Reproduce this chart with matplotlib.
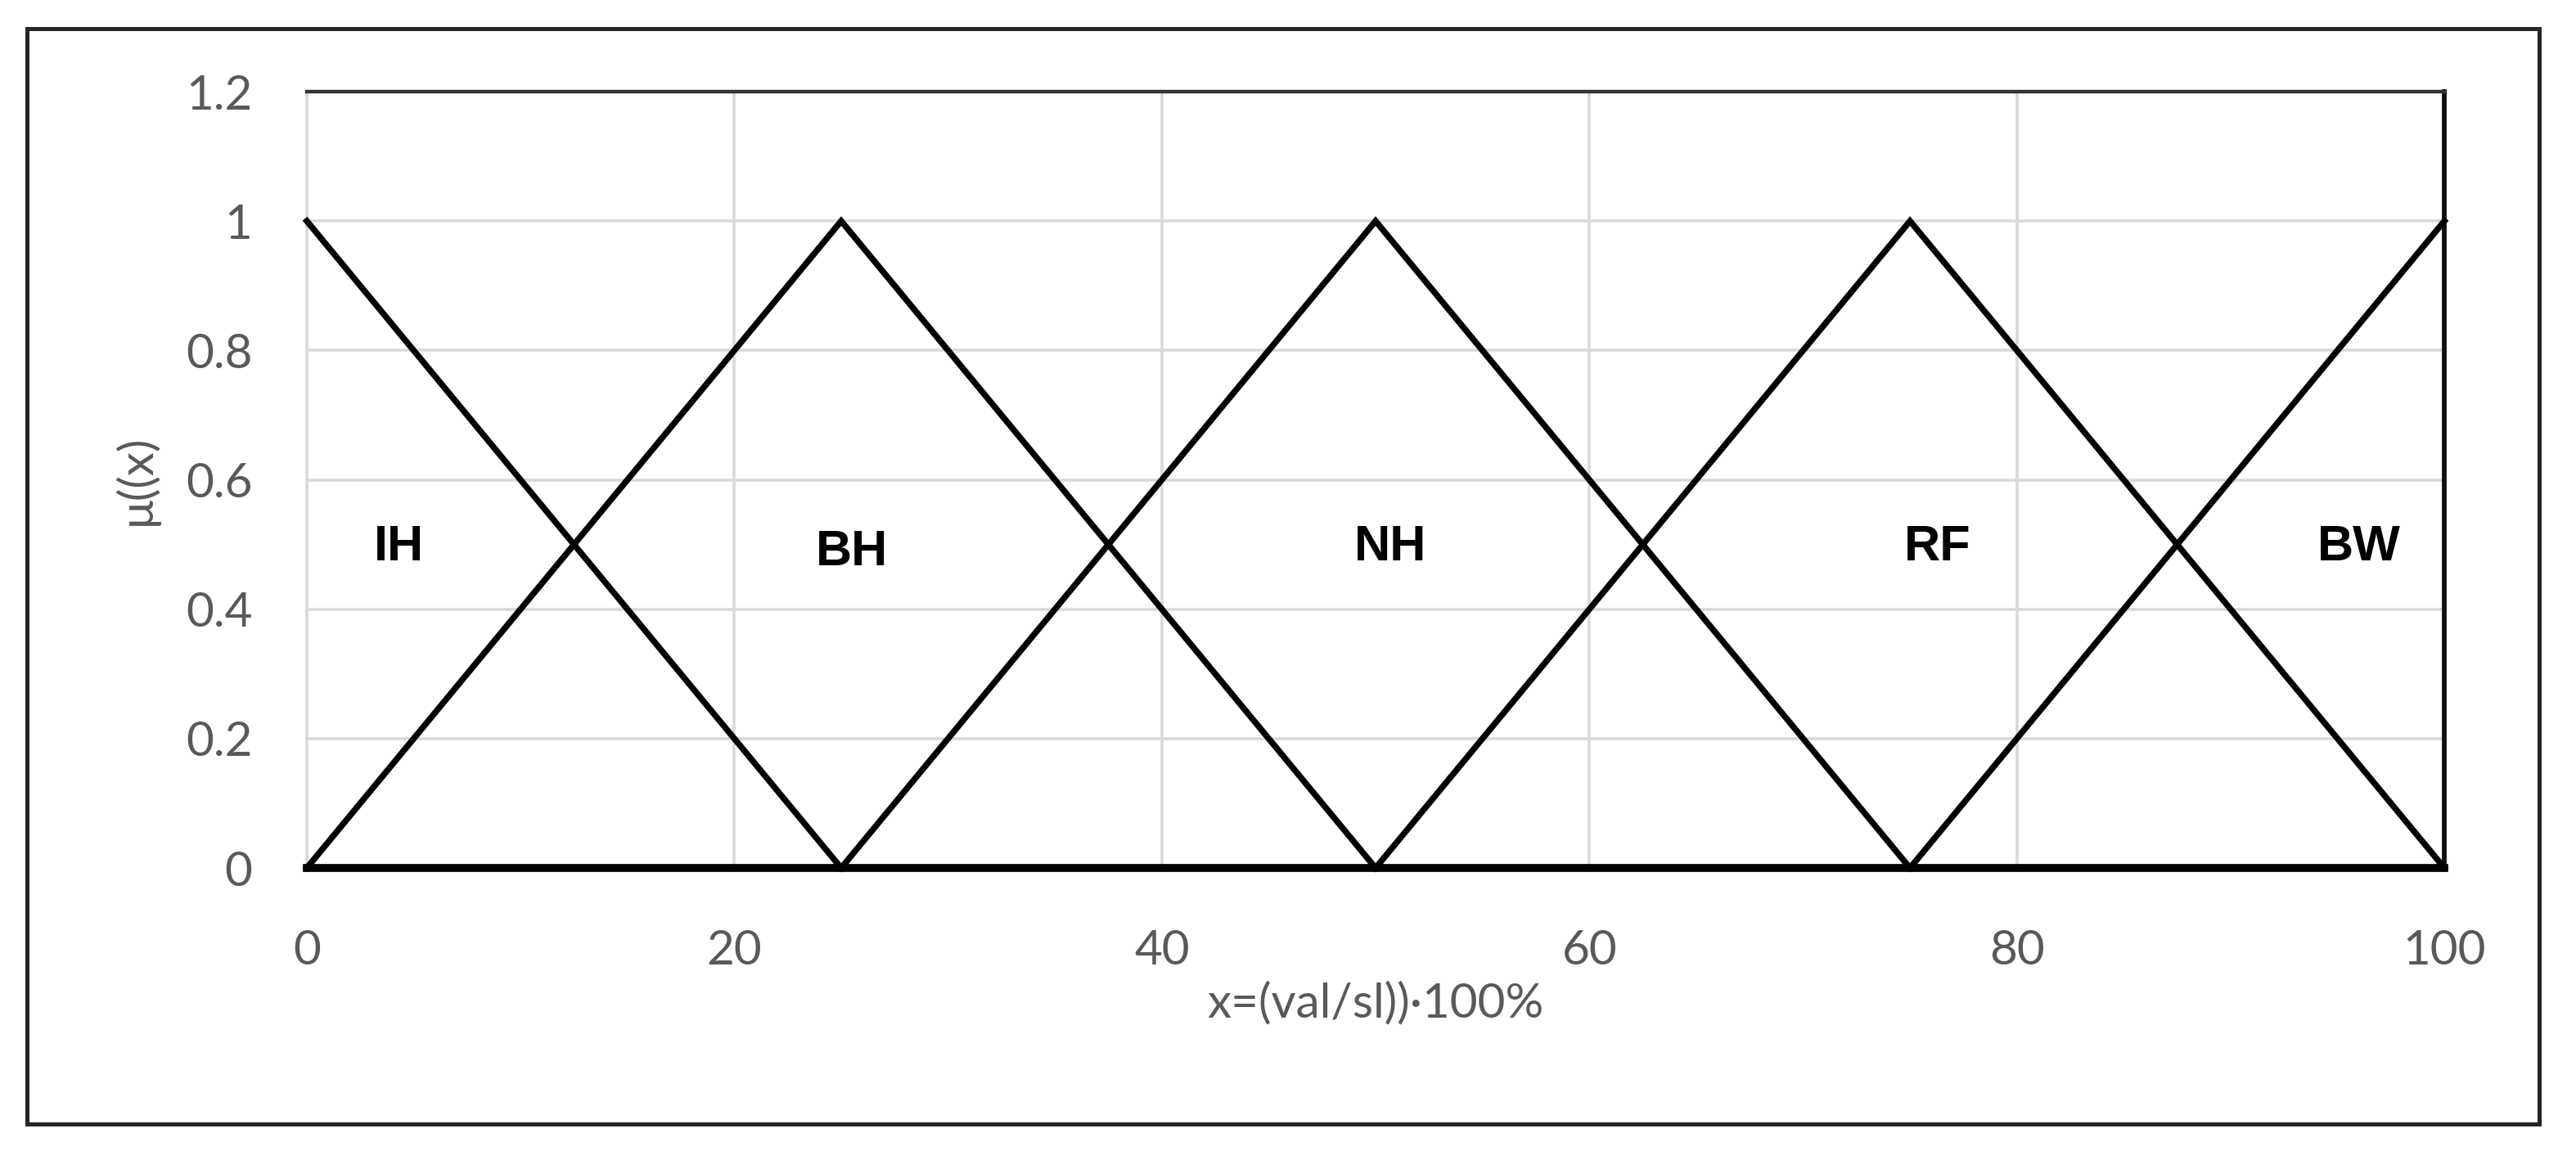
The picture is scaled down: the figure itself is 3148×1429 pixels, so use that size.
import matplotlib.pyplot as plt
from matplotlib.patches import Rectangle

# membership functions (x in %, mu)
ih_x = [0, 25]
ih_y = [1, 0]
bh_x = [0, 25, 50]
bh_y = [0, 1, 0]
nh_x = [25, 50, 75]
nh_y = [0, 1, 0]
rf_x = [50, 75, 100]
rf_y = [0, 1, 0]
bw_x = [75, 100]
bw_y = [0, 1]

labels = ['IH', 'BH', 'NH', 'RF', 'BW']
label_x = [4.3, 25.5, 50.7, 76.3, 96.0]
label_y = [0.495, 0.487, 0.495, 0.495, 0.495]

xticks = [0, 20, 40, 60, 80, 100]
yticks = [0, 0.2, 0.4, 0.6, 0.8, 1.0, 1.2]
ytick_labels = ['0', '0.2', '0.4', '0.6', '0.8', '1', '1.2']

fig = plt.figure(figsize=(31.48, 14.29), dpi=100)
ax = fig.add_axes([0.1191, 0.2575, 0.8298, 0.6641])

# outer frame
fig.patches.append(Rectangle((0.0105, 0.0385), 0.9752, 0.937, transform=fig.transFigure,
                             fill=False, edgecolor='#262626', lw=3.6))

lw = 5.4
for xs, ys in [(ih_x, ih_y), (bh_x, bh_y), (nh_x, nh_y), (rf_x, rf_y), (bw_x, bw_y)]:
    ax.plot(xs, ys, color='black', lw=lw, solid_joinstyle='miter', clip_on=False, zorder=3)

for t, lx, ly in zip(labels, label_x, label_y):
    ax.text(lx, ly, t, ha='center', va='center', fontsize=44, fontweight='bold',
            family='Liberation Sans', color='black')

ax.set_xlim(0, 100)
ax.set_ylim(0, 1.2)
ax.set_xticks(xticks)
ax.set_yticks(yticks)
ax.set_yticklabels(ytick_labels)
ax.grid(True, color='#d9d9d9', lw=2.6)
ax.set_axisbelow(True)

ax.tick_params(length=0, labelsize=42, labelcolor='#595959')
ax.tick_params(axis='x', pad=54)
ax.tick_params(axis='y', pad=48)
for lab in ax.get_xticklabels() + ax.get_yticklabels():
    lab.set_family('Lato')

ax.spines['left'].set_color('#d9d9d9')
ax.spines['left'].set_linewidth(2.6)
ax.spines['top'].set_color('#333333')
ax.spines['top'].set_linewidth(3.2)
ax.spines['right'].set_color('#111111')
ax.spines['right'].set_linewidth(4.2)
ax.spines['bottom'].set_color('black')
ax.spines['bottom'].set_linewidth(7)

ax.set_xlabel('x=(val/sl))\u00b7100%', fontsize=42, color='#595959', family='Lato', labelpad=8)
ax.set_ylabel('\u03bc((x)', fontsize=42, color='#595959', family='Lato', labelpad=24)

fig.savefig('out.png', dpi=100)
